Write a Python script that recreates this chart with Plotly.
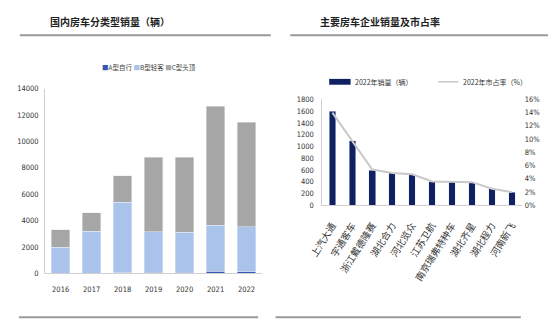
import plotly.graph_objects as go

# ---- Left chart data ----
years = ["2016", "2017", "2018", "2019", "2020", "2021", "2022"]
type_a = [20, 30, 40, 100, 100, 150, 120]
type_b = [1980, 3170, 5360, 3050, 3030, 3500, 3430]
type_c = [1300, 1380, 2000, 5650, 5670, 9000, 7900]
left_series = ["A型自行", "B型轻客", "C型头顶"]

# ---- Right chart data ----
companies = ["上汽大通", "宇通客车", "浙江戴德隆赛", "湖北合力", "河北览众",
             "江苏卫航", "南京瑞弗特种车", "湖北齐星", "湖北程力", "河南新飞"]
sales_2022 = [1600, 1100, 600, 550, 530, 400, 400, 380, 280, 220]
share_2022 = [14.0, 9.7, 5.4, 4.9, 4.7, 3.6, 3.6, 3.5, 2.5, 2.0]

W, H = 550, 330
def px(x): return x / W
def py(y): return 1 - y / H

NUM_FONT = "Liberation Sans Narrow, DejaVu Sans Condensed, Liberation Sans, sans-serif"
CJK_FONT = "Noto Sans CJK SC, sans-serif"
COL_A, COL_B, COL_C = "#3657B5", "#A9C3EA", "#A6A6A6"
NAVY = "#0F2163"
LINE_GRAY = "#C9C9C9"

fig = go.Figure()
fig.add_trace(go.Bar(x=years, y=type_a, name=left_series[0], marker_color=COL_A,
                     xaxis="x", yaxis="y", width=0.6, showlegend=False))
fig.add_trace(go.Bar(x=years, y=type_b, name=left_series[1], marker_color=COL_B,
                     xaxis="x", yaxis="y", width=0.6, showlegend=False))
fig.add_trace(go.Bar(x=years, y=type_c, name=left_series[2], marker_color=COL_C,
                     xaxis="x", yaxis="y", width=0.6, showlegend=False))

fig.add_trace(go.Bar(x=companies, y=sales_2022, name="2022年销量（辆）", marker_color=NAVY,
                     xaxis="x2", yaxis="y2", width=0.33, showlegend=False))
fig.add_trace(go.Scatter(x=companies, y=share_2022, name="2022年市占率（%）", mode="lines",
                         line=dict(color=LINE_GRAY, width=2),
                         xaxis="x2", yaxis="y3", showlegend=False))

axis_line = dict(showline=True, linecolor="#D0D0D0", linewidth=1, showgrid=False,
                 zeroline=False, ticks="")
tick_font = dict(family=NUM_FONT, size=7.5, color="#333333")

fig.update_layout(
    width=W, height=H,
    margin=dict(l=0, r=0, t=0, b=0),
    paper_bgcolor="white", plot_bgcolor="white",
    barmode="stack",
    xaxis=dict(domain=[px(31), px(254)], anchor="y", type="category",
               tickfont=tick_font, ticklabelstandoff=9, **axis_line),
    yaxis=dict(domain=[py(277), py(87)], anchor="x", range=[0, 14000], dtick=2000,
               tickformat="d", tickfont=tick_font, ticklabelstandoff=4, **axis_line),
    xaxis2=dict(domain=[px(316), px(521)], anchor="y2", type="category",
                tickangle=-58, tickfont=dict(family=CJK_FONT, size=9.5, color="#333333"),
                ticklabelstandoff=10, **axis_line),
    yaxis2=dict(domain=[py(207), py(98)], anchor="x2", range=[0, 1800], dtick=200,
                tickformat="d", tickfont=tick_font, ticklabelstandoff=6, **axis_line),
    yaxis3=dict(overlaying="y2", anchor="x2", side="right", range=[0, 16], dtick=2,
                ticksuffix="%", tickfont=tick_font, showgrid=False, zeroline=False,
                showline=False, ticks="", ticklabelstandoff=2),
)

shapes = []
for x0, x1, y in [(5, 263, 32), (283, 548, 32), (4, 250, 322), (268, 520, 322)]:
    shapes.append(dict(type="line", xref="paper", yref="paper",
                       x0=px(x0), x1=px(x1), y0=py(y), y1=py(y),
                       line=dict(color="#9A9A9A", width=2)))
shapes.append(dict(type="rect", xref="paper", yref="paper",
                   x0=px(323), x1=px(345), y0=py(83), y1=py(77),
                   fillcolor=NAVY, line=dict(width=0)))
shapes.append(dict(type="line", xref="paper", yref="paper",
                   x0=px(435), x1=px(456), y0=py(80), y1=py(80),
                   line=dict(color=LINE_GRAY, width=1.5)))
fig.update_layout(shapes=shapes)

ann = []
ann.append(dict(text="<b>国内房车分类型销量（辆）</b>", x=px(34), y=py(18), xref="paper", yref="paper",
                xanchor="left", yanchor="middle", showarrow=False,
                font=dict(family=CJK_FONT, size=10, color="#222222")))
ann.append(dict(text="<b>主要房车企业销量及市占率</b>", x=px(311), y=py(18), xref="paper", yref="paper",
                xanchor="left", yanchor="middle", showarrow=False,
                font=dict(family=CJK_FONT, size=10, color="#222222")))
legend_left = (f"<span style='color:{COL_A}'>■</span>{left_series[0]} "
               f"<span style='color:{COL_B}'>■</span>{left_series[1]} "
               f"<span style='color:{COL_C}'>■</span>{left_series[2]}")
ann.append(dict(text=legend_left, x=px(87), y=py(65), xref="paper", yref="paper",
                xanchor="left", yanchor="middle", showarrow=False,
                font=dict(family=CJK_FONT, size=6.5, color="#444444")))
ann.append(dict(text="2022年销量（辆）", x=px(347), y=py(80), xref="paper", yref="paper",
                xanchor="left", yanchor="middle", showarrow=False,
                font=dict(family=CJK_FONT, size=7, color="#333333")))
ann.append(dict(text="2022年市占率（%）", x=px(458), y=py(80), xref="paper", yref="paper",
                xanchor="left", yanchor="middle", showarrow=False,
                font=dict(family=CJK_FONT, size=7, color="#333333")))
fig.update_layout(annotations=ann)

fig.write_html("out.html",
               post_script="document.body.style.margin='0';document.body.style.overflow='hidden';")
